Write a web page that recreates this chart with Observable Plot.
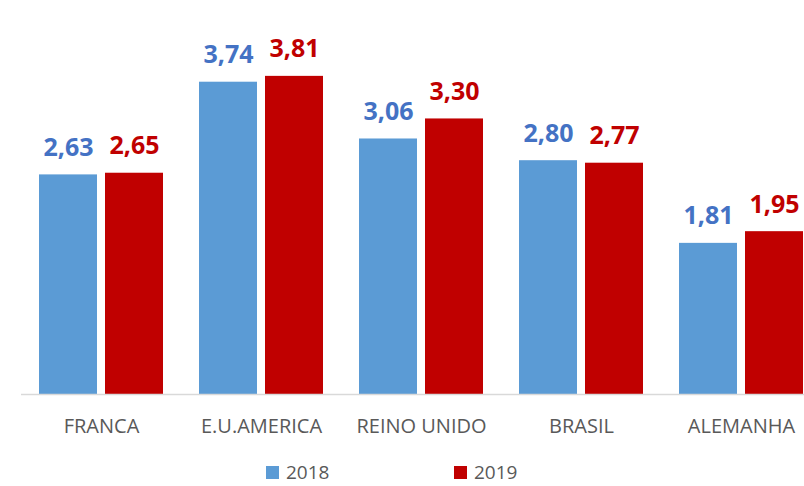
<!DOCTYPE html>
<html>
<head>
<meta charset="utf-8">
<script src="https://cdn.jsdelivr.net/npm/d3@7"></script>
<script src="https://cdn.jsdelivr.net/npm/@observablehq/plot@0.6"></script>
<style>
  html, body { margin: 0; padding: 0; background: #fff; overflow: hidden; }
  #wrap { position: relative; width: 804px; height: 486px; overflow: hidden; }
  #chart { position: absolute; left: 0; top: 0; width: 804px; overflow: hidden; }
  .legend { position: absolute; top: 462px; height: 20px; line-height: 20px; display: flex; align-items: center;
            font-family: "Open Sans", sans-serif; font-size: 19px; color: #595959; }
  .legend .sw { width: 13px; height: 13px; margin-right: 7px; }
</style>
</head>
<body>
<div id="wrap">
  <div id="chart"></div>
  <div id="legend"></div>
</div>
<script>
const categories = ["FRANCA", "E.U.AMERICA", "REINO UNIDO", "BRASIL", "ALEMANHA"];
const years = ["2018", "2019"];
const values2018 = [2.63, 3.74, 3.06, 2.80, 1.81];
const values2019 = [2.65, 3.81, 3.30, 2.77, 1.95];
const barColors = ["#5B9BD5", "#C00000"];
const labelColors = ["#4472C4", "#C00000"];

const d2018 = categories.map((c, i) => ({cat: c, v: values2018[i]}));
const d2019 = categories.map((c, i) => ({cat: c, v: values2019[i]}));
const fmt = v => d3.format(".2f")(v).replace(".", ",");

const chart = Plot.plot({
  width: 804,
  height: 450,
  marginLeft: 21,
  marginRight: 0,
  marginTop: 0,
  marginBottom: 0,
  x: {domain: categories, range: [21, 821], padding: 0, axis: null},
  y: {domain: [0, 4], range: [394, 60], axis: null},
  marks: [
    Plot.barY(d2018, {x: "cat", y: "v", fill: barColors[0], insetLeft: 18, insetRight: 84}),
    Plot.barY(d2019, {x: "cat", y: "v", fill: barColors[1], insetLeft: 84, insetRight: 18}),
    Plot.ruleY([0], {stroke: "#D9D9D9", strokeWidth: 1.5}),
    Plot.text(d2018, {x: "cat", y: "v", text: d => fmt(d.v), dx: -33, dy: -19, lineAnchor: "bottom",
      fill: labelColors[0], fontSize: 25, fontWeight: "bold", fontFamily: "Open Sans"}),
    Plot.text(d2019, {x: "cat", y: "v", text: d => fmt(d.v), dx: 33, dy: -19, lineAnchor: "bottom",
      fill: labelColors[1], fontSize: 25, fontWeight: "bold", fontFamily: "Open Sans"}),
    Plot.text(categories, {x: d => d, y: () => 0, text: d => d, dy: 24, lineAnchor: "top",
      fill: "#595959", fontSize: 20, fontFamily: "Open Sans"})
  ]
});
document.getElementById("chart").appendChild(chart);

const legend = document.getElementById("legend");
const lefts = [266, 454];
years.forEach((y, i) => {
  const item = document.createElement("div");
  item.className = "legend";
  item.style.left = lefts[i] + "px";
  const sw = document.createElement("div");
  sw.className = "sw";
  sw.style.background = barColors[i];
  const t = document.createElement("span");
  t.textContent = y;
  item.appendChild(sw);
  item.appendChild(t);
  legend.appendChild(item);
});
</script>
</body>
</html>
